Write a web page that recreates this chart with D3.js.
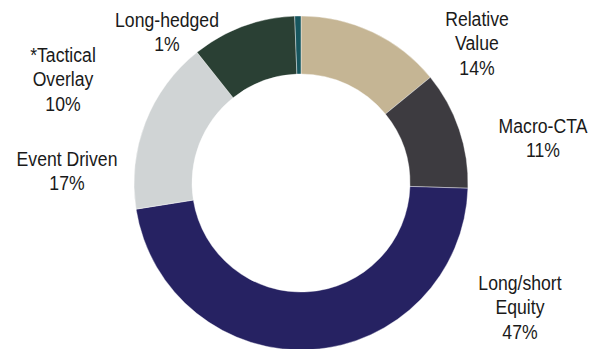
<!DOCTYPE html>
<html>
<head>
<meta charset="utf-8">
<script src="https://cdn.jsdelivr.net/npm/d3@7/dist/d3.min.js"></script>
<style>
  html, body { margin: 0; padding: 0; background: #ffffff; }
  svg { display: block; }
  text { font-family: "Liberation Sans Narrow", "Arial Narrow", "Liberation Sans", sans-serif; fill: #1a1a1a; }
</style>
</head>
<body>
<script>
// ---- data ----
const categories = ["Relative Value", "Macro-CTA", "Long/short Equity", "Event Driven", "*Tactical Overlay", "Long-hedged"];
const values = [14.1, 11.4, 47.0, 16.8, 10.1, 0.6];
const percentLabels = ["14%", "11%", "47%", "17%", "10%", "1%"];
const labelLines = [["Relative", "Value"], ["Macro-CTA"], ["Long/short", "Equity"], ["Event Driven"], ["*Tactical", "Overlay"], ["Long-hedged"]];
const colors = ["#c5b594", "#3d3b40", "#262262", "#d0d4d5", "#2a4034", "#17565e"];

// ---- layout ----
const W = 603, H = 349;
const cx = 301, cy = 183, outerR = 167, innerR = 109;
// label anchor: x center, baseline of first line
const labelAnchors = [[477, 26], [543, 133], [520, 290], [67, 166], [63, 62], [167, 27]];
const lineH = 24.5;
const squeeze = 0.84;

const svg = d3.select("body").append("svg").attr("width", W).attr("height", H);

const pie = d3.pie().value(d => d).sort(null).startAngle(0).endAngle(2 * Math.PI);
const arc = d3.arc().innerRadius(innerR).outerRadius(outerR);

const g = svg.append("g").attr("transform", `translate(${cx},${cy})`);
g.selectAll("path")
  .data(pie(values))
  .join("path")
  .attr("d", arc)
  .attr("fill", (d, i) => colors[i])
  .attr("stroke", "#ffffff")
  .attr("stroke-width", 0.4);

const labels = svg.append("g");
categories.forEach((c, i) => {
  const lines = labelLines[i].concat([percentLabels[i]]);
  const t = labels.append("text")
    .attr("text-anchor", "middle")
    .attr("font-size", 21)
    .attr("transform", `translate(${labelAnchors[i][0]},${labelAnchors[i][1]}) scale(${squeeze},1)`);
  lines.forEach((ln, j) => {
    t.append("tspan")
      .attr("x", 0)
      .attr("dy", j === 0 ? 0 : lineH)
      .text(ln);
  });
});
</script>
</body>
</html>
